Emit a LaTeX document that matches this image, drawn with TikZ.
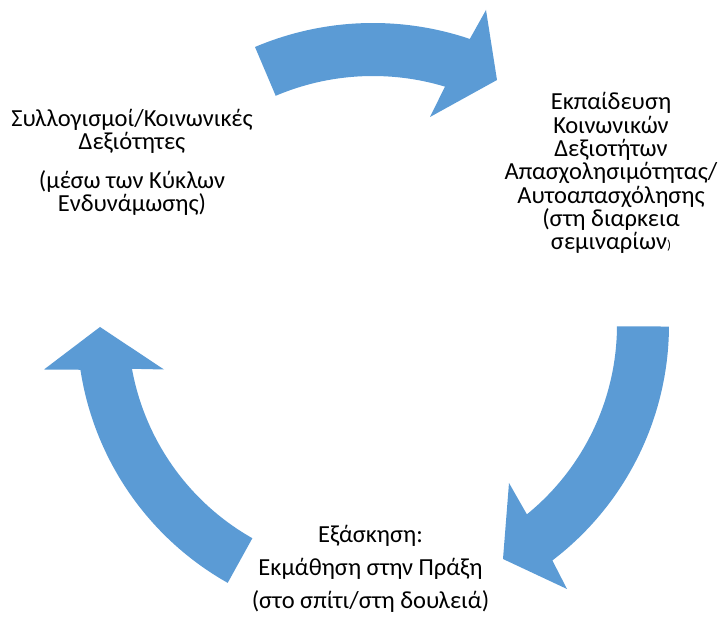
\documentclass[tikz,border=0pt]{standalone}
\usepackage{fontspec}
\setmainfont{Carlito}
\usetikzlibrary{calc}
\definecolor{arrowblue}{HTML}{5B9BD5}
\newcommand{\txtline}[1]{\smash{#1}}
\begin{document}
\begin{tikzpicture}[x=1pt,y=1pt,
  arr/.style={fill=arrowblue},
  lbl/.style={inner sep=0pt,anchor=base,font=\fontsize{24.5}{23.3}\selectfont}]
\useasboundingbox (0,0) rectangle (718,618);
\coordinate (C) at (373,293);
% top arrow
\fill[arr] ($(C)+(113:302)$) arc[start angle=113, end angle=71.3, radius=302pt]
  -- (486,608) -- (497,538) -- (430,501)
  -- ($(C)+(73.2:249)$) arc[start angle=73.2, end angle=113, radius=249pt] -- cycle;
% right arrow
\fill[arr] ($(C)+(-0.3:296)$) arc[start angle=-0.3, end angle=-52.7, radius=296pt]
  -- (567,29) -- (503,59) -- (509,135)
  -- ($(C)+(-50.9:244)$) arc[start angle=-50.9, end angle=-0.3, radius=244pt] -- cycle;
% left arrow
\fill[arr] ($(C)+(-119.4:296)$) arc[start angle=-119.4, end angle=-171.3, radius=296pt]
  -- (44,248.5) -- (100,291) -- (164,248.5)
  -- ($(C)+(-169.7:245)$) arc[start angle=-169.7, end angle=-119.5, radius=245pt] -- cycle;
% texts
\node[lbl] (lefttext) at (132,491.3) {\begin{tabular}[t]{@{}c@{}}\txtline{Συλλογισμοί/Κοινωνικές}\\ \txtline{Δεξιότητες}\\[15pt] \txtline{(μέσω των Κύκλων}\\ \txtline{Ενδυνάμωσης)}\end{tabular}};
\node[lbl] (righttext) at (611,508) {\begin{tabular}[t]{@{}c@{}}\txtline{Εκπαίδευση}\\ \txtline{Κοινωνικών}\\ \txtline{Δεξιοτήτων}\\ \txtline{Απασχολησιμότητας/}\\ \txtline{Αυτοαπασχόλησης}\\ \txtline{(στη διαρκεια}\\ \txtline{σεμιναρίων{\fontsize{13}{13}\selectfont )}}\end{tabular}};
\node[lbl] (bottomtext) at (370.5,75.3) {\begin{tabular}[t]{@{}c@{}}\txtline{Εξάσκηση:}\\[9.5pt] \txtline{Εκμάθηση στην Πράξη}\\[9.5pt] \txtline{(στο σπίτι/στη δουλειά)}\end{tabular}};
\end{tikzpicture}
\end{document}
